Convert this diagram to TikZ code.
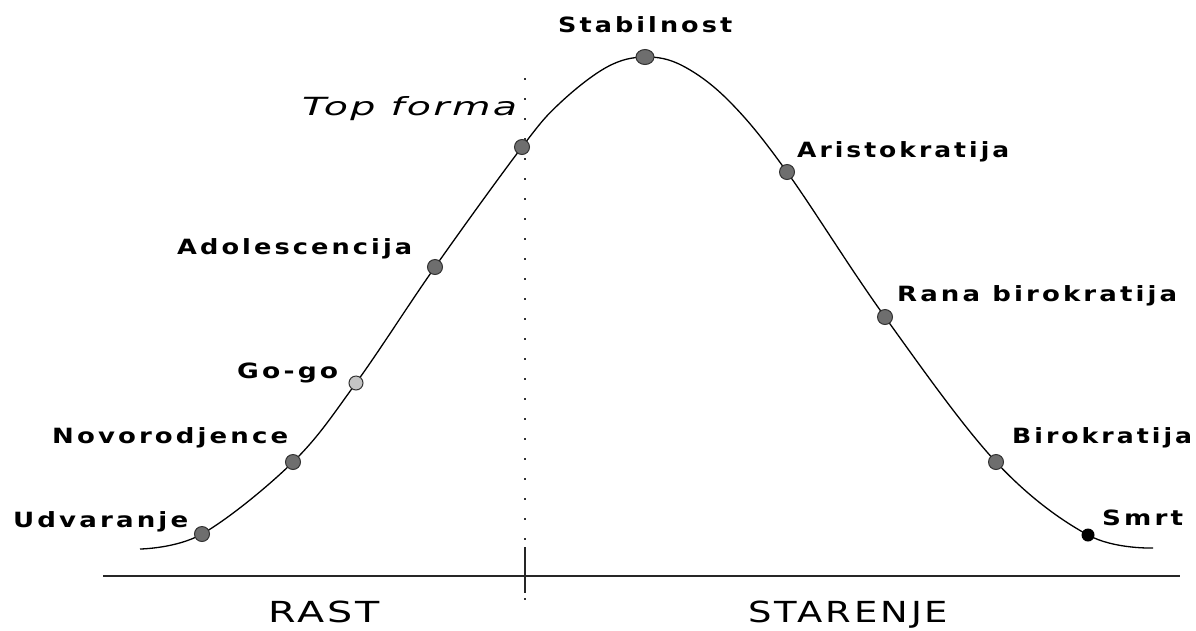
\documentclass[tikz,border=0pt]{standalone}
\usepackage{fontspec}
\usetikzlibrary{shapes.geometric}
\setmainfont{DejaVu Sans}
\newfontfamily\lblfont{DejaVu Sans}[LetterSpace=12]
\newfontfamily\topfont{DejaVu Sans}[LetterSpace=6]
\newfontfamily\axfont{DejaVu Sans}[LetterSpace=8]
\newsavebox\fitbox
\newlength\fitlen
\newcommand\fitw[2]{\sbox\fitbox{#2}\setlength\fitlen{\wd\fitbox}\pgfmathsetmacro\fitscale{#1/\fitlen}\scalebox{\fitscale}[1]{\usebox\fitbox}}
\definecolor{dotgray}{HTML}{6E6E6E}
\definecolor{lightdot}{HTML}{C4C4C4}
\tikzset{
  lbl/.style={anchor=base west, inner sep=0pt, font=\lblfont\bfseries\fontsize{21}{25}\selectfont},
  toplbl/.style={anchor=base west, inner sep=0pt, font=\topfont\itshape\fontsize{25}{30}\selectfont},
  axlbl/.style={anchor=base west, inner sep=0pt, font=\axfont\fontsize{29}{34}\selectfont},
  stagedot/.style={circle, draw=black!80, line width=1pt, fill=dotgray, minimum size=15pt, inner sep=0pt},
  godot/.style={stagedot, fill=lightdot, minimum size=14pt},
  deathdot/.style={circle, fill=black, minimum size=13pt, inner sep=0pt},
  curveline/.style={line width=1.3pt, black},
  axisline/.style={line width=2.2pt, black!85},
  dotline/.style={line width=1.6pt, dash pattern=on 1.6pt off 18.4pt, black!80},
}
\begin{document}
\begin{tikzpicture}[x=1pt, y=-1pt]
\useasboundingbox (0,0) rectangle (1196,630);
% curve points
\coordinate (p0) at (140,549);
\coordinate (pUdv) at (202,534);
\coordinate (pNov) at (293,462);
\coordinate (pGo) at (356,383);
\coordinate (pAdo) at (435,267);
\coordinate (pTop) at (522,147);
\coordinate (h1) at (560,103);
\coordinate (h2) at (607,67);
\coordinate (pStab) at (645,57);
\coordinate (h3) at (683,66);
\coordinate (h4) at (730,102);
\coordinate (pAri) at (787,172);
\coordinate (pRana) at (885,317);
\coordinate (pBir) at (996,462);
\coordinate (pSmrt) at (1088,535);
\coordinate (p1) at (1153,548);
% axis and separators
\coordinate (axL) at (103,576);
\coordinate (axR) at (1180,576);
\coordinate (tkT) at (525,547);
\coordinate (tkB) at (525,593);
\coordinate (dlT) at (525,78);
\coordinate (dlB) at (525,615);
\draw[dotline] (dlT) -- (dlB);
\draw[axisline] (axL) -- (axR);
\draw[axisline] (tkT) -- (tkB);
\draw[curveline] plot[smooth, tension=0.6] coordinates {(p0) (pUdv) (pNov) (pGo) (pAdo) (pTop) (h1) (h2) (pStab) (h3) (h4) (pAri) (pRana) (pBir) (pSmrt) (p1)};
% dots
\node[stagedot] (dUdv) at (pUdv) {};
\node[stagedot] (dNov) at (pNov) {};
\node[godot] (dGo) at (pGo) {};
\node[stagedot] (dAdo) at (pAdo) {};
\node[stagedot] (dTop) at (pTop) {};
\node[stagedot, ellipse, minimum width=18pt, minimum height=15pt] (dStab) at (pStab) {};
\node[stagedot] (dAri) at (pAri) {};
\node[stagedot] (dRana) at (pRana) {};
\node[stagedot] (dBir) at (pBir) {};
\node[deathdot] (dSmrt) at (pSmrt) {};
% labels
\node[lbl] (tStab) at (558,32) {\fitw{174}{Stabilnost}};
\node[toplbl] (tTop) at (302,115) {\fitw{215}{Top forma}};
\node[lbl] (tAri) at (797,157) {\fitw{212}{Aristokratija}};
\node[lbl] (tAdo) at (177,254) {\fitw{235}{Adolescencija}};
\node[lbl] (tRana) at (897,301) {\fitw{280}{Rana birokratija}};
\node[lbl] (tGo) at (237,378) {\fitw{101}{Go-go}};
\node[lbl] (tNov) at (52,443) {\fitw{236}{Novorodjence}};
\node[lbl] (tBir) at (1012,443) {\fitw{180}{Birokratija}};
\node[lbl] (tUdv) at (13,527) {\fitw{175}{Udvaranje}};
\node[lbl] (tSmrt) at (1102,525) {\fitw{81}{Smrt}};
\node[axlbl] (tRast) at (268,622) {\fitw{112}{RAST}};
\node[axlbl] (tStar) at (748,622) {\fitw{200}{STARENJE}};
\end{tikzpicture}
\end{document}
